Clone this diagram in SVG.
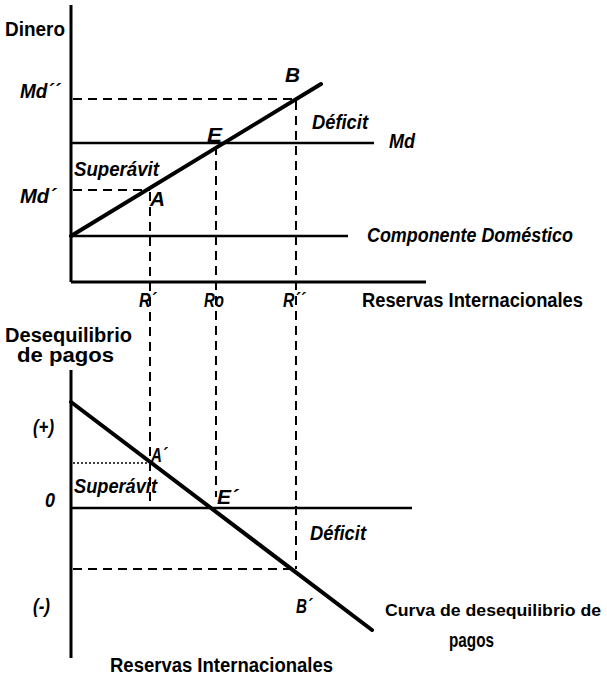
<svg xmlns="http://www.w3.org/2000/svg" width="607" height="677" viewBox="0 0 607 677">
<style>
.ax{stroke:#000;stroke-width:3;fill:none}
.ln{stroke:#000;stroke-width:2.5;fill:none}
.cv{stroke:#000;stroke-width:4;fill:none;stroke-linecap:round}
.ds{stroke:#000;stroke-width:2;fill:none;stroke-dasharray:9,6}
.dt{stroke:#000;stroke-width:1.5;fill:none;stroke-dasharray:2,2}
text{font-family:"Liberation Sans",Arial,sans-serif;font-weight:bold;font-size:20px;fill:#000}
.it{font-style:italic}
</style>
<rect width="607" height="677" fill="#fff"/>
<g id="connectors">
<!-- top panel -->
<line class="ax" x1="71" y1="5" x2="71" y2="282"/>
<line class="ax" x1="71" y1="282" x2="426" y2="282"/>
<line class="ln" x1="71" y1="143" x2="374" y2="143"/>
<line class="ln" x1="71" y1="236" x2="348" y2="236"/>
<line class="cv" x1="71" y1="236" x2="321" y2="84"/>
<line class="ds" x1="73" y1="99" x2="296" y2="99"/>
<line class="ds" x1="73" y1="190" x2="150" y2="190"/>
<line class="ds" x1="150" y1="192" x2="150" y2="508"/>
<line class="ds" x1="216" y1="146" x2="216" y2="497"/>
<line class="ds" x1="296" y1="101" x2="296" y2="569"/>
<!-- bottom panel -->
<line class="ax" x1="71" y1="370" x2="71" y2="658"/>
<line class="ln" x1="71" y1="508" x2="412" y2="508"/>
<line class="cv" x1="71" y1="402" x2="372" y2="630"/>
<line class="dt" x1="73" y1="463" x2="150" y2="463"/>
<line class="ds" x1="73" y1="569" x2="296" y2="569"/>
</g>
<g id="labels-top">
<text x="5" y="36" textLength="60" lengthAdjust="spacingAndGlyphs">Dinero</text>
<text class="it" x="20" y="98" textLength="40" lengthAdjust="spacingAndGlyphs">Md´´</text>
<text class="it" x="20" y="203" textLength="36" lengthAdjust="spacingAndGlyphs">Md´</text>
<text class="it" x="285" y="82" textLength="15" lengthAdjust="spacingAndGlyphs">B</text>
<text class="it" x="312" y="129" textLength="56" lengthAdjust="spacingAndGlyphs">Déficit</text>
<text class="it" x="389" y="148" textLength="26" lengthAdjust="spacingAndGlyphs">Md</text>
<text class="it" x="207" y="142" textLength="15" lengthAdjust="spacingAndGlyphs">E</text>
<text class="it" x="74" y="176" textLength="85" lengthAdjust="spacingAndGlyphs">Superávit</text>
<text class="it" x="150" y="206" textLength="15" lengthAdjust="spacingAndGlyphs">A</text>
<text class="it" x="367" y="242" textLength="206" lengthAdjust="spacingAndGlyphs">Componente Doméstico</text>
<text class="it" x="139" y="307" textLength="17" lengthAdjust="spacingAndGlyphs">R´</text>
<text class="it" x="204" y="307" textLength="20" lengthAdjust="spacingAndGlyphs">Ro</text>
<text class="it" x="283" y="307" textLength="22" lengthAdjust="spacingAndGlyphs">R´´</text>
<text x="362" y="307" textLength="221" lengthAdjust="spacingAndGlyphs">Reservas Internacionales</text>
</g>
<g id="labels-bottom">
<text x="5" y="342" textLength="127" lengthAdjust="spacingAndGlyphs">Desequilibrio</text>
<text x="17" y="362" textLength="97" lengthAdjust="spacingAndGlyphs">de pagos</text>
<text class="it" x="33" y="434" textLength="21" lengthAdjust="spacingAndGlyphs">(+)</text>
<text class="it" x="151" y="462" textLength="16" lengthAdjust="spacingAndGlyphs">A´</text>
<text class="it" x="74" y="493" textLength="83" lengthAdjust="spacingAndGlyphs">Superávit</text>
<text class="it" x="45" y="507" textLength="10" lengthAdjust="spacingAndGlyphs">0</text>
<text class="it" x="217" y="504" textLength="21" lengthAdjust="spacingAndGlyphs">E´</text>
<text class="it" x="310" y="540" textLength="56" lengthAdjust="spacingAndGlyphs">Déficit</text>
<text class="it" x="33" y="613" textLength="17" lengthAdjust="spacingAndGlyphs">(-)</text>
<text class="it" x="296" y="613" textLength="16" lengthAdjust="spacingAndGlyphs">B´</text>
<text x="385" y="616" style="font-size:17px" textLength="216" lengthAdjust="spacingAndGlyphs">Curva de desequilibrio de</text>
<text x="449" y="647" textLength="45" lengthAdjust="spacingAndGlyphs">pagos</text>
<text x="110" y="672" textLength="223" lengthAdjust="spacingAndGlyphs">Reservas Internacionales</text>
</g>
</svg>
